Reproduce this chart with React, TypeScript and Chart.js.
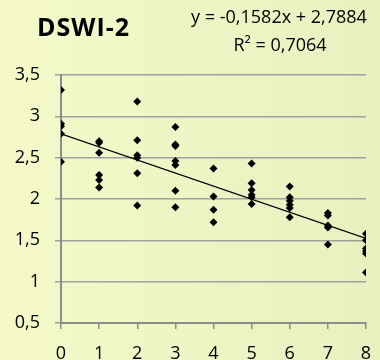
import React, { useEffect, useRef } from "react";
import { Chart, registerables } from "chart.js";

Chart.register(...registerables);

const titleText = "DSWI-2";
const equationText = "y = -0,1582x + 2,7884";
const r2Text = "R² = 0,7064";

const slope = -0.1582;
const intercept = 2.7884;

const xValues = [
  0, 0, 0, 0, 0,
  1, 1, 1, 1, 1, 1,
  2, 2, 2, 2, 2, 2,
  3, 3, 3, 3, 3, 3, 3,
  4, 4, 4, 4,
  5, 5, 5, 5, 5, 5,
  6, 6, 6, 6, 6, 6,
  7, 7, 7, 7, 7,
  8, 8, 8, 8, 8, 8,
];
const yValues = [
  3.32, 2.91, 2.88, 2.79, 2.45,
  2.70, 2.68, 2.56, 2.29, 2.23, 2.14,
  3.18, 2.71, 2.53, 2.50, 2.31, 1.92,
  2.87, 2.66, 2.64, 2.46, 2.41, 2.10, 1.90,
  2.37, 2.03, 1.87, 1.72,
  2.43, 2.19, 2.11, 2.05, 2.02, 1.94,
  2.15, 2.02, 1.98, 1.93, 1.89, 1.78,
  1.83, 1.80, 1.68, 1.655, 1.45,
  1.58, 1.50, 1.40, 1.37, 1.34, 1.11,
];

const xMin = 0;
const xMax = 8;
const yMin = 0.5;
const yMax = 3.5;

const FONT = "'Open Sans', sans-serif";

export default function App() {
  const ref = useRef<HTMLCanvasElement | null>(null);

  useEffect(() => {
    document.body.style.margin = "0";
    const canvas = ref.current;
    if (!canvas) return;

    const textPlugin = {
      id: "textPlugin",
      afterDraw(chart: any) {
        const ctx = chart.ctx;
        ctx.save();
        ctx.fillStyle = "#000";
        ctx.textBaseline = "middle";
        ctx.textAlign = "left";
        ctx.font = `bold 25px ${FONT}`;
        try { (ctx as any).letterSpacing = "1px"; } catch (e) {}
        ctx.fillText(titleText, 37, 29);
        try { (ctx as any).letterSpacing = "0px"; } catch (e) {}
        ctx.textAlign = "center";
        ctx.font = `18px ${FONT}`;
        ctx.fillText(equationText, 279, 18);
        ctx.fillText(r2Text, 280, 46);
        ctx.restore();
      },
    };

    const points = xValues.map((x, i) => ({ x, y: yValues[i] }));
    const trend = [
      { x: xMin, y: intercept + slope * xMin },
      { x: xMax, y: intercept + slope * xMax },
    ];

    const chart = new Chart(canvas, {
      type: "scatter",
      data: {
        datasets: [
          {
            type: "line",
            data: trend,
            borderColor: "#000",
            borderWidth: 1.2,
            pointRadius: 0,
            fill: false,
          } as any,
          {
            data: points,
            pointStyle: "rectRot",
            pointRadius: 4,
            backgroundColor: "#000",
            borderColor: "#000",
            borderWidth: 0,
          },
        ],
      },
      plugins: [textPlugin],
      options: {
        animation: false,
        responsive: false,
        layout: { padding: { top: 75, right: 14, left: 0, bottom: 0 } },
        plugins: {
          legend: { display: false },
          tooltip: { enabled: false },
          title: { display: false },
        },
        scales: {
          x: {
            type: "linear",
            min: xMin,
            max: xMax,
            afterFit(scale: any) {
              scale.height = 37;
              scale.paddingLeft = 0;
              scale.paddingRight = 0;
            },
            ticks: {
              stepSize: 1,
              color: "#000",
              font: { family: FONT, size: 18 },
              padding: 14,
            },
            grid: {
              drawOnChartArea: false,
              drawTicks: true,
              tickLength: 6,
              color: "#8c8c8c",
              lineWidth: 1.5,
            },
            border: { color: "#8c8c8c", width: 2 },
          },
          y: {
            type: "linear",
            min: yMin,
            max: yMax,
            afterFit(scale: any) {
              scale.width = 61;
              scale.paddingTop = 0;
              scale.paddingBottom = 0;
            },
            ticks: {
              stepSize: 0.5,
              color: "#000",
              font: { family: FONT, size: 18 },
              padding: 15,
              callback: (v: any) => String(v).replace(".", ","),
            },
            grid: {
              drawTicks: true,
              tickLength: 6,
              color: "#a0a0a0",
              lineWidth: 1.5,
            },
            border: { color: "#8c8c8c", width: 2 },
          },
        },
      },
    });

    return () => chart.destroy();
  }, []);

  return (
    <div
      style={{
        width: 380,
        height: 360,
        background: "linear-gradient(90deg, #f5f9c9 0%, #e7f1c0 100%)",
      }}
    >
      <canvas ref={ref} width={380} height={360} style={{ display: "block" }} />
    </div>
  );
}
